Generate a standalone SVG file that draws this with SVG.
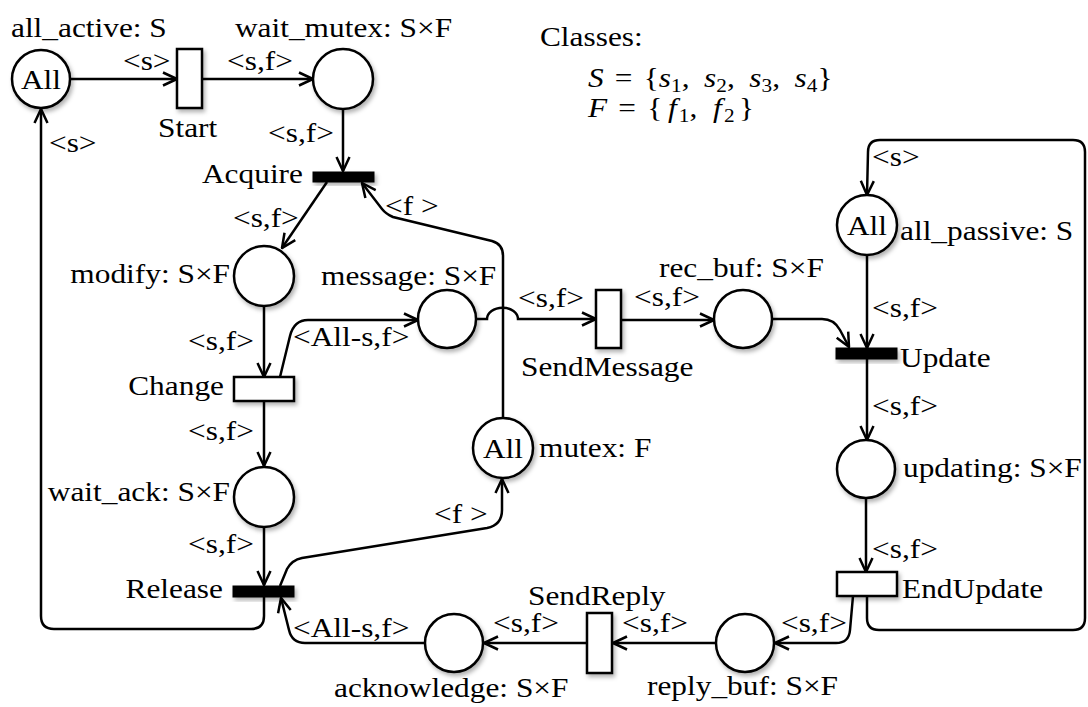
<svg xmlns="http://www.w3.org/2000/svg" width="1088" height="707" viewBox="0 0 1088 707">
<style>
.pl{fill:#fff;stroke:#000;stroke-width:2.5}
.tw{fill:#fff;stroke:#000;stroke-width:2.5}
.tb{fill:#000;stroke:#000;stroke-width:1}
.arc{fill:none;stroke:#000;stroke-width:2.5}
text{font-family:"Liberation Serif","Times New Roman",serif;font-size:28px;fill:#000}
.m{text-anchor:middle}
.e{text-anchor:end}
.i{font-style:italic}
.sb{font-size:19px}
</style>
<defs>
<marker id="arr" viewBox="0 0 16 16" refX="15" refY="8" markerWidth="16" markerHeight="16" markerUnits="userSpaceOnUse" orient="auto">
<path d="M1,1.5 L15,8 L1,14.5" fill="none" stroke="#000" stroke-width="2.5"/>
</marker>
<filter id="sh" x="-30%" y="-30%" width="170%" height="170%">
<feDropShadow dx="2" dy="3" stdDeviation="2" flood-color="#000" flood-opacity="0.3"/>
</filter>
</defs>
<rect width="1088" height="707" fill="#fff"/>

<g id="connectors">
<path class="arc" marker-end="url(#arr)" d="M70,79 L177,79"/>
<path class="arc" marker-end="url(#arr)" d="M202,79 L313,79"/>
<path class="arc" marker-end="url(#arr)" d="M343,109 L343,171"/>
<path class="arc" marker-end="url(#arr)" d="M327,182 L282,248"/>
<path class="arc" marker-end="url(#arr)" d="M264,306 L264,377"/>
<path class="arc" marker-end="url(#arr)" d="M280,377 L290,336 Q294,320 308,320 L418,320"/>
<path class="arc" marker-end="url(#arr)" d="M476,319 L487,319 A15,11 0 0 1 518,319 L596,319"/>
<path class="arc" marker-end="url(#arr)" d="M621,320 L714,320"/>
<path class="arc" marker-end="url(#arr)" d="M772,319 L822,319 Q834,319 840,330 L849,347"/>
<path class="arc" marker-end="url(#arr)" d="M867,255 L867,348"/>
<path class="arc" marker-end="url(#arr)" d="M867,359 L867,440"/>
<path class="arc" marker-end="url(#arr)" d="M866,498 L866,572"/>
<path class="arc" marker-end="url(#arr)" d="M867,596 L867,618 Q867,630 879,630 L1073,630 Q1085,630 1085,618 L1085,152 Q1085,140 1073,140 L880,140 Q868,140 868,152 L867,195"/>
<path class="arc" marker-end="url(#arr)" d="M853,596 L850,630 Q849,643 836,643 L775,643"/>
<path class="arc" marker-end="url(#arr)" d="M716,643 L613,643"/>
<path class="arc" marker-end="url(#arr)" d="M587,643 L484,643"/>
<path class="arc" marker-end="url(#arr)" d="M425,643 L305,643 Q292,643 289,630 L281,598"/>
<path class="arc" marker-end="url(#arr)" d="M264,401 L264,466"/>
<path class="arc" marker-end="url(#arr)" d="M264,527 L264,585"/>
<path class="arc" marker-end="url(#arr)" d="M280,586 L287,569 Q292,560 302,558 L487,528 Q502,525 502,510 L502,479"/>
<path class="arc" marker-end="url(#arr)" d="M503,418 L503,256 Q503,244 492,241 L393,217 Q386,214 382,209 L362,183"/>
<path class="arc" marker-end="url(#arr)" d="M264,597 L264,616 Q264,629 251,629 L54,629 Q41,629 41,616 L41,109"/>
</g>

<g id="all_active"><circle class="pl" filter="url(#sh)" cx="41" cy="79" r="29"/></g>
<g id="wait_mutex"><circle class="pl" filter="url(#sh)" cx="343" cy="79" r="30"/></g>
<g id="modify"><circle class="pl" filter="url(#sh)" cx="264" cy="276" r="30"/></g>
<g id="message"><circle class="pl" filter="url(#sh)" cx="447" cy="319" r="29"/></g>
<g id="wait_ack"><circle class="pl" filter="url(#sh)" cx="264" cy="497" r="30"/></g>
<g id="mutex"><circle class="pl" filter="url(#sh)" cx="503" cy="448" r="30"/></g>
<g id="rec_buf"><circle class="pl" filter="url(#sh)" cx="743" cy="319" r="29"/></g>
<g id="all_passive"><circle class="pl" filter="url(#sh)" cx="867" cy="225" r="30"/></g>
<g id="updating"><circle class="pl" filter="url(#sh)" cx="866" cy="469" r="29"/></g>
<g id="reply_buf"><circle class="pl" filter="url(#sh)" cx="745" cy="643" r="29"/></g>
<g id="acknowledge"><circle class="pl" filter="url(#sh)" cx="454" cy="643" r="29"/></g>

<g id="Start"><rect class="tw" filter="url(#sh)" x="177" y="49" width="25" height="59"/></g>
<g id="Acquire"><rect class="tb" filter="url(#sh)" x="313" y="172" width="61" height="10"/></g>
<g id="Change"><rect class="tw" filter="url(#sh)" x="234" y="377" width="60" height="24"/></g>
<g id="Release"><rect class="tb" filter="url(#sh)" x="233" y="586" width="61" height="11"/></g>
<g id="SendMessage"><rect class="tw" filter="url(#sh)" x="596" y="290" width="25" height="58"/></g>
<g id="Update"><rect class="tb" filter="url(#sh)" x="836" y="348" width="61" height="11"/></g>
<g id="EndUpdate"><rect class="tw" filter="url(#sh)" x="837" y="572" width="60" height="24"/></g>
<g id="SendReply"><rect class="tw" filter="url(#sh)" x="587" y="613" width="25" height="60"/></g>

<g id="labels" transform="scale(1.12,1)">
<text x="9.8" y="37">all_active: S</text>
<text x="209.8" y="37">wait_mutex: S×F</text>
<text x="482.1" y="46">Classes:</text>
<text x="525" y="87"><tspan class="i">S</tspan><tspan dx="10">=</tspan><tspan dx="10">{</tspan><tspan class="i">s</tspan><tspan class="sb" dy="5">1</tspan><tspan dy="-5">,</tspan><tspan class="i" dx="13">s</tspan><tspan class="sb" dy="5">2</tspan><tspan dy="-5">,</tspan><tspan class="i" dx="13">s</tspan><tspan class="sb" dy="5">3</tspan><tspan dy="-5">,</tspan><tspan class="i" dx="13">s</tspan><tspan class="sb" dy="5">4</tspan><tspan dy="-5">}</tspan></text>
<text x="525" y="117"><tspan class="i">F</tspan><tspan dx="10">=</tspan><tspan dx="10">{</tspan><tspan class="i" dx="5">f</tspan><tspan class="sb" dx="2" dy="5">1</tspan><tspan dy="-5">,</tspan><tspan class="i" dx="14">f</tspan><tspan class="sb" dx="2" dy="5">2</tspan><tspan dy="-5" dx="4">}</tspan></text>
<text x="109.8" y="70">&lt;s&gt;</text>
<text x="202.7" y="70">&lt;s,f&gt;</text>
<text x="141.1" y="137">Start</text>
<text x="239.3" y="142">&lt;s,f&gt;</text>
<text x="43.75" y="152">&lt;s&gt;</text>
<text class="e" x="270.5" y="183">Acquire</text>
<text x="343.75" y="215">&lt;f &gt;</text>
<text x="208" y="227">&lt;s,f&gt;</text>
<text class="e" x="205.4" y="283">modify: S×F</text>
<text x="286.6" y="285">message: S×F</text>
<text x="261.6" y="346">&lt;All-s,f&gt;</text>
<text x="167.9" y="350">&lt;s,f&gt;</text>
<text class="e" x="200" y="395">Change</text>
<text x="462.5" y="307">&lt;s,f&gt;</text>
<text x="465.2" y="376">SendMessage</text>
<text x="566.1" y="306">&lt;s,f&gt;</text>
<text x="588.4" y="277">rec_buf: S×F</text>
<text x="778.6" y="166">&lt;s&gt;</text>
<text class="m" x="774.1" y="235">All</text>
<text x="803.6" y="240">all_passive: S</text>
<text x="778.6" y="317">&lt;s,f&gt;</text>
<text x="803.6" y="367">Update</text>
<text x="778.6" y="415">&lt;s,f&gt;</text>
<text x="806.25" y="477">updating: S×F</text>
<text x="778.6" y="558">&lt;s,f&gt;</text>
<text x="805.4" y="598">EndUpdate</text>
<text x="697.3" y="632">&lt;s,f&gt;</text>
<text x="577.7" y="695">reply_buf: S×F</text>
<text x="555.4" y="632">&lt;s,f&gt;</text>
<text x="471.4" y="605">SendReply</text>
<text x="440.2" y="632">&lt;s,f&gt;</text>
<text x="298.2" y="697">acknowledge: S×F</text>
<text x="261.6" y="637">&lt;All-s,f&gt;</text>
<text class="e" x="199.1" y="598">Release</text>
<text x="167.9" y="440">&lt;s,f&gt;</text>
<text class="e" x="205.4" y="501">wait_ack: S×F</text>
<text x="167.9" y="553">&lt;s,f&gt;</text>
<text x="387.5" y="523">&lt;f &gt;</text>
<text x="481.25" y="457">mutex: F</text>
<text class="m" x="36.6" y="89">All</text>
<text class="m" x="449.1" y="458">All</text>
</g>
</svg>
